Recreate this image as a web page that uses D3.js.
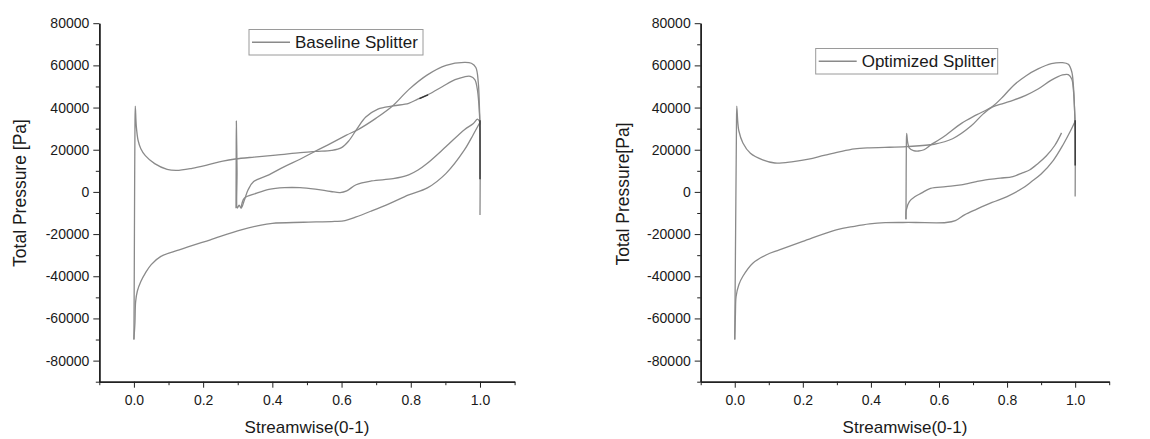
<!DOCTYPE html>
<html><head><meta charset="utf-8">
<title>Total pressure - baseline vs optimized splitter</title>
<script src="https://d3js.org/d3.v7.min.js"></script>
<style>
  body { margin: 0; background: #fff; }
  svg text { font-family: "Liberation Sans", Arial, sans-serif; fill: #1a1a1a; }
  .tick text { font-size: 14px; }
  .axis path, .axis line { stroke: #222; }
  .axis path { stroke-width: 1.5; }
</style>
</head>
<body>
<svg id="chart" width="1150" height="439"></svg>

<script>
// ---- data (streamwise position 0-1, total pressure in Pa) ----
const xTicks = [0, 0.2, 0.4, 0.6, 0.8, 1.0];
const xMinor = [-0.1, 0.1, 0.3, 0.5, 0.7, 0.9, 1.1];
const yTicks = [-80000, -60000, -40000, -20000, 0, 20000, 40000, 60000, 80000];
const yMinor = [-90000, -70000, -50000, -30000, -10000, 10000, 30000, 50000, 70000];

// baseline splitter
const baseMainUpper = [[0,-70000],[0.001,-40000],[0.002,0],[0.003,30000],[0.004,40700],[0.007,31000],[0.012,24500],
  [0.02,20500],[0.033,17200],[0.06,13400],[0.096,10700],[0.123,10200],[0.168,11200],[0.213,12800],[0.257,14600],
  [0.293,15600],[0.347,16500],[0.41,17400],[0.481,18600],[0.526,19200],[0.571,19700],[0.6,21000],[0.62,24000],
  [0.645,30000],[0.67,35500],[0.705,39300],[0.75,40800],[0.794,42000],[0.82,44000],[0.852,46300],[0.892,50000],
  [0.928,53200],[0.955,54600],[0.972,54800],[0.985,53300],[0.992,49000],[0.997,41000],[1.0,30000],[1.0,-11000]];
const baseMainLower = [[0,-70000],[0.003,-62000],[0.005,-52000],[0.01,-47000],[0.02,-42500],[0.033,-38500],
  [0.05,-34500],[0.078,-30600],[0.131,-27500],[0.221,-22700],[0.31,-18000],[0.36,-16000],[0.4,-14900],[0.49,-14400],
  [0.58,-14000],[0.61,-13600],[0.64,-12000],[0.687,-9000],[0.74,-5400],[0.794,-1400],[0.848,1900],[0.902,8800],
  [0.955,19900],[0.98,27000],[1.0,33000]];
const baseSplitUpper = [[0.295,-7700],[0.2955,15000],[0.296,33600],[0.298,10000],[0.299,-7700],[0.304,-6300],
  [0.31,-7700],[0.319,-4000],[0.33,1000],[0.346,4900],[0.39,8100],[0.435,12000],[0.48,15500],[0.524,19300],
  [0.569,23000],[0.614,26900],[0.65,29800],[0.7,35000],[0.749,41000],[0.794,48500],[0.848,55500],[0.902,60000],
  [0.955,61400],[0.975,61000],[0.988,59000],[0.995,52000],[0.998,42000],[1.0,32000]];
const baseSplitLower = [[0.31,-7700],[0.319,-3000],[0.355,-600],[0.39,1200],[0.435,2000],[0.48,2000],[0.524,1300],
  [0.569,200],[0.596,-300],[0.615,500],[0.642,3400],[0.687,5200],[0.749,6300],[0.794,8100],[0.821,10400],
  [0.848,13600],[0.902,21500],[0.955,29500],[0.98,32300],[0.993,34500],[1.0,33000]];
const baseDark = [[[1.0,34000],[1.0,6000]], [[0.825,44200],[0.85,46000]]];

// optimized splitter
const optMainUpper = [[0,-70000],[0.002,-30000],[0.004,10000],[0.005,30000],[0.006,40700],[0.009,33000],
  [0.012,29000],[0.024,23200],[0.046,18300],[0.082,15200],[0.118,13700],[0.172,14400],[0.217,15500],[0.262,17300],
  [0.307,19000],[0.352,20400],[0.396,20900],[0.441,21100],[0.505,21500],[0.586,22600],[0.64,25200],[0.694,31200],
  [0.73,37000],[0.756,40200],[0.79,42000],[0.819,43500],[0.855,45800],[0.891,48800],[0.93,53000],[0.963,55500],
  [0.98,55600],[0.99,53500],[0.995,48000],[0.998,40000],[1.0,30000],[1.0,-2200]];
const optMainLower = [[0,-70000],[0.002,-58000],[0.004,-49600],[0.012,-44000],[0.0235,-40100],[0.053,-33800],
  [0.092,-29900],[0.131,-27500],[0.2,-23500],[0.298,-18000],[0.352,-16300],[0.396,-15200],[0.442,-14600],
  [0.494,-14500],[0.532,-14500],[0.621,-14500],[0.648,-13600],[0.675,-10900],[0.711,-8200],[0.756,-5000],
  [0.8,-2200],[0.845,1700],[0.872,4900],[0.9,8500],[0.936,15000],[0.965,22500],[0.985,28500],[1.0,33500]];
const optSplitUpper = [[0.503,-13000],[0.5035,5000],[0.504,20000],[0.505,27800],[0.508,23500],[0.513,20800],
  [0.525,19600],[0.54,19400],[0.556,20000],[0.576,22300],[0.6,24700],[0.621,27000],[0.666,32500],[0.71,36500],
  [0.756,40400],[0.79,45500],[0.819,50500],[0.855,55000],[0.891,58300],[0.93,60800],[0.963,61300],[0.98,60500],
  [0.99,57000],[0.995,50000],[0.998,40000],[1.0,32000]];
const optSplitLower = [[0.503,-13000],[0.504,-8500],[0.513,-4600],[0.53,-2200],[0.548,-600],[0.575,1700],
  [0.62,2500],[0.665,3300],[0.71,4900],[0.737,5700],[0.78,6500],[0.817,7300],[0.845,9000],[0.866,10400],
  [0.891,13500],[0.915,17000],[0.94,22000],[0.96,28000]];
const optDark = [[[1.0,34000],[1.0,12500]]];

// ---- layout ----
const panels = [
  { x0: 99.3, x1: 514.6, series: [baseMainUpper, baseMainLower, baseSplitUpper, baseSplitLower], dark: baseDark,
    legend: "Baseline Splitter", box: { x: 249, y: 29.5, w: 174, h: 25.5 },
    yTitle: "Total Pressure [Pa]", yTitleX: 20, yTitleY: 193 },
  { x0: 700.7, x1: 1109.2, series: [optMainUpper, optMainLower, optSplitUpper, optSplitLower], dark: optDark,
    legend: "Optimized Splitter", box: { x: 815.7, y: 48.5, w: 182, h: 25.5 },
    yTitle: "Total Pressure[Pa]", yTitleX: 623, yTitleY: 194 }
];

const svg = d3.select("#chart");
const yTop = 23.2, yBottom = 381.7;
const lineColor = "#8a8a8a";

panels.forEach(p => {
  const x = d3.scaleLinear().domain([-0.1, 1.1]).range([p.x0, p.x1]);
  const y = d3.scaleLinear().domain([-90000, 80000]).range([yBottom, yTop]);
  const g = svg.append("g");

  // minor ticks first so the major axis draws over them
  g.append("g").attr("class", "axis").attr("transform", `translate(${p.x0},0)`)
    .call(d3.axisLeft(y).tickValues(yMinor).tickSize(3.5).tickSizeOuter(0).tickFormat(""));
  g.append("g").attr("class", "axis").attr("transform", `translate(0,${yBottom})`)
    .call(d3.axisBottom(x).tickValues(xMinor).tickSize(3.5).tickSizeOuter(0).tickFormat(""));

  g.append("g").attr("class", "axis").attr("transform", `translate(${p.x0},0)`)
    .call(d3.axisLeft(y).tickValues(yTicks).tickSize(6).tickSizeOuter(0).tickPadding(4)
      .tickFormat(d => String(d)));
  g.append("g").attr("class", "axis").attr("transform", `translate(0,${yBottom})`)
    .call(d3.axisBottom(x).tickValues(xTicks).tickSize(6).tickSizeOuter(0).tickPadding(7)
      .tickFormat(d3.format(".1f")));

  // axis titles
  g.append("text")
    .attr("transform", `translate(${p.yTitleX},${p.yTitleY}) rotate(-90)`)
    .attr("text-anchor", "middle").attr("dominant-baseline", "central")
    .style("font-size", "17.5px").text(p.yTitle);
  g.append("text")
    .attr("x", (p.x0 + p.x1) / 2).attr("y", 433)
    .attr("text-anchor", "middle").style("font-size", "17px")
    .text("Streamwise(0-1)");

  // curves
  const line = d3.line().x(d => x(d[0])).y(d => y(d[1])).curve(d3.curveCatmullRom.alpha(0.5));
  g.selectAll("path.curve").data(p.series).join("path")
    .attr("class", "curve")
    .attr("fill", "none").attr("stroke", lineColor).attr("stroke-width", 1.3)
    .attr("d", line);
  g.selectAll("path.dark").data(p.dark).join("path")
    .attr("class", "dark")
    .attr("fill", "none").attr("stroke", "#333").attr("stroke-width", 1.4)
    .attr("d", d3.line().x(d => x(d[0])).y(d => y(d[1])));

  // legend
  const b = p.box;
  g.append("rect").attr("x", b.x).attr("y", b.y).attr("width", b.w).attr("height", b.h)
    .attr("fill", "#fff").attr("stroke", "#9a9a9a").attr("stroke-width", 1);
  g.append("line").attr("x1", b.x + 3).attr("x2", b.x + 41)
    .attr("y1", b.y + b.h / 2).attr("y2", b.y + b.h / 2)
    .attr("stroke", lineColor).attr("stroke-width", 1.3);
  g.append("text").attr("x", b.x + 46).attr("y", b.y + b.h / 2)
    .attr("dominant-baseline", "central").style("font-size", "17px")
    .text(p.legend);
});
</script>
</body>
</html>
